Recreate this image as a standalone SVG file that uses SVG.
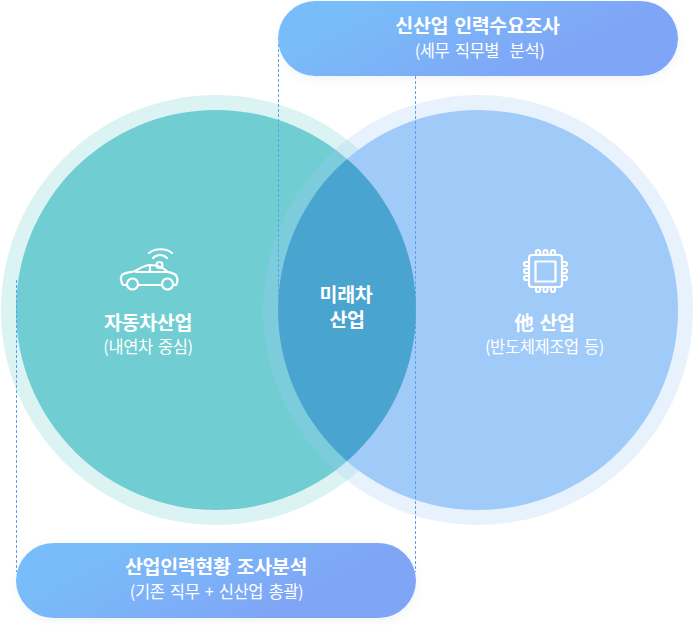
<svg xmlns="http://www.w3.org/2000/svg" width="694" height="625" viewBox="0 0 694 625">
<style>
text{font-family:"Noto Sans CJK KR","Noto Sans",sans-serif;fill:#fff;text-anchor:middle;white-space:pre;word-spacing:2px}
.t{font-size:19.500px;font-weight:700;letter-spacing:-.35px}
.s{font-size:16.500px;letter-spacing:-.4px}
.d{fill:none;stroke:#5a9ff0;stroke-width:1;stroke-dasharray:3 2}
.i{fill:none;stroke:#fff;stroke-width:2.200;stroke-linecap:round;stroke-linejoin:round}
</style>
<defs>
<linearGradient id="g" x1="0" y1="0" x2="1" y2="0.35"><stop offset=".2" stop-color="#78bdf9"/><stop offset=".85" stop-color="#7fa6f6"/></linearGradient>
<filter id="sh" x="-10%" y="-30%" width="120%" height="170%"><feDropShadow dx="1" dy="3" stdDeviation="4" flood-color="#6b8fc0" flood-opacity=".1"/></filter>
<clipPath id="cl"><circle cx="216" cy="310" r="200"/></clipPath>
</defs>
<g id="venn">
<circle id="left-halo" cx="216" cy="310" r="215" fill="#dcf3f3"/>
<circle id="left-circle" cx="216" cy="310" r="200" fill="#70cdd2"/>
<circle id="right-halo" cx="478" cy="310" r="215" fill="#a0caf8" opacity=".25"/>
<circle id="right-circle" cx="478" cy="310" r="200" fill="#a0caf8"/>
<circle id="lens" cx="478" cy="310" r="200" fill="#4aa4d0" clip-path="url(#cl)"/>
</g>
<g id="connectors">
<path class="d" d="M278.500 44V310"/>
<path class="d" d="M415.500 76V572"/>
<path class="d" d="M16.500 280V572"/>
</g>
<g id="node-top">
<rect x="278" y="1" width="400" height="75" rx="37.500" fill="url(#g)" filter="url(#sh)"/>
<text class="t" x="477.500" y="33">신산업 인력수요조사</text>
<text class="s" x="479.500" y="57">(세무 직무별  분석)</text>
</g>
<g id="node-bottom">
<rect x="16" y="543" width="400" height="75" rx="37.500" fill="url(#g)" filter="url(#sh)"/>
<text class="t" x="216" y="574">산업인력현황 조사분석</text>
<text class="s" x="216.500" y="598">(기존 직무 + 신산업 총괄)</text>
</g>
<g id="node-auto">
<path class="i" d="M126 285h-3c-2-3-3-8-1-10 3-3 8-2 13-4 6-3 9-6 15-6 9 0 13 3 18 7 4 1 9 2 9 6 1 2 0 5-1 7h-3M139 285h22M136 272h32M150 265v7"/>
<circle cx="132.500" cy="284" r="5.500" class="i"/><circle cx="167.500" cy="284" r="5.500" class="i"/>
<circle cx="159.500" cy="265" r="3" class="i"/>
<path class="i" d="M153 258c4-4 10-4 14 0M149 253c6-5 17-5 23 0"/>
<text class="t" x="148" y="330">자동차산업</text>
<text class="s" x="148" y="353">(내연차 중심)</text>
</g>
<g id="node-future">
<text class="t"><tspan x="346" y="302">미래차</tspan><tspan x="347" y="327">산업</tspan></text>
</g>
<g id="node-other">
<rect x="529" y="255" width="33" height="32" rx="3" class="i"/>
<rect x="535.500" y="261.500" width="20" height="20" class="i"/>
<path class="i" d="M536 255v-3a2 2 0 0 1 4 0v3M543.500 255v-3a2 2 0 0 1 4 0v3M551 255v-3a2 2 0 0 1 4 0v3M536 287v3a2 2 0 0 0 4 0v-3M543.500 287v3a2 2 0 0 0 4 0v-3M551 287v3a2 2 0 0 0 4 0v-3M529 262h-3a2 2 0 0 0 0 4h3M529 269h-3a2 2 0 0 0 0 4h3M529 276h-3a2 2 0 0 0 0 4h3M562 262h3a2 2 0 0 1 0 4h-3M562 269h3a2 2 0 0 1 0 4h-3M562 276h3a2 2 0 0 1 0 4h-3"/>
<text class="t" x="544.500" y="330">他 산업</text>
<text class="s" x="544.500" y="353">(반도체제조업 등)</text>
</g>
</svg>
